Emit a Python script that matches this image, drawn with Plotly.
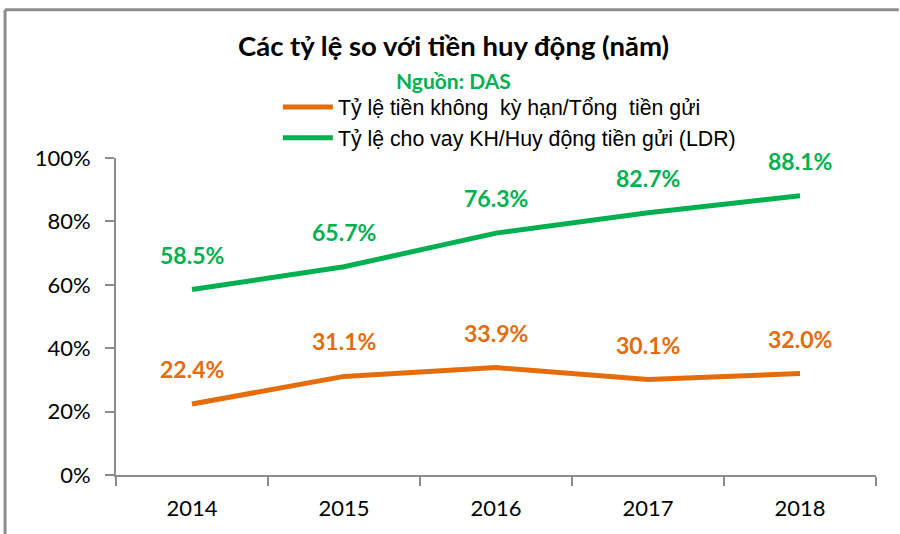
import plotly.graph_objects as go

years = ["2014", "2015", "2016", "2017", "2018"]
casa = [22.4, 31.1, 33.9, 30.1, 32.0]
ldr = [58.5, 65.7, 76.3, 82.7, 88.1]
name_casa = "Tỷ lệ tiền không  kỳ hạn/Tổng  tiền gửi"
name_ldr = "Tỷ lệ cho vay KH/Huy động tiền gửi (LDR)"
title = "Các tỷ lệ so với tiền huy động (năm)"
subtitle = "Nguồn: DAS"
ytick_vals = [0, 20, 40, 60, 80, 100]
ytick_text = ["0%", "20%", "40%", "60%", "80%", "100%"]

ORANGE = "#E46C0A"
GREEN = "#00B050"
GRAY = "#8C8C8C"

fig = go.Figure()
fig.add_trace(go.Scatter(x=years, y=casa, mode="lines", name=name_casa,
                         line=dict(color=ORANGE, width=5)))
fig.add_trace(go.Scatter(x=years, y=ldr, mode="lines", name=name_ldr,
                         line=dict(color=GREEN, width=5)))

annotations = []
for series, color in ((casa, ORANGE), (ldr, GREEN)):
    for i, v in enumerate(series):
        annotations.append(dict(x=i, y=v, xref="x", yref="y", text=f"<b>{v:.1f}%</b>",
                                showarrow=False, yshift=35, xanchor="center", yanchor="middle",
                                font=dict(family="Lato", size=23, color=color)))
annotations.append(dict(x=0.444, y=1.356, xref="paper", yref="paper", text=f"<b>{title}</b>",
                        showarrow=False, xanchor="center", yanchor="middle",
                        font=dict(family="Lato", size=27.5, color="black")))
annotations.append(dict(x=0.444, y=1.246, xref="paper", yref="paper", text=f"<b>{subtitle}</b>",
                        showarrow=False, xanchor="center", yanchor="middle",
                        font=dict(family="Lato", size=21, color=GREEN)))

fig.update_layout(
    width=900, height=534,
    margin=dict(l=116, r=24, t=158, b=59),
    paper_bgcolor="white", plot_bgcolor="white",
    showlegend=True,
    legend=dict(x=0.213, y=1.225, xanchor="left", yanchor="top",
                font=dict(family="Liberation Sans", size=21.3, color="black"),
                bgcolor="rgba(0,0,0,0)", itemwidth=50, tracegroupgap=0),
    annotations=annotations,
    xaxis=dict(type="category", range=[-0.5, 4.5], tickson="boundaries",
               showline=True, linecolor=GRAY, linewidth=2,
               ticks="outside", ticklen=9, tickcolor=GRAY, tickwidth=2,
               ticklabelstandoff=13,
               showgrid=False, zeroline=False,
               tickfont=dict(family="Lato", size=22, color="black")),
    yaxis=dict(range=[0, 100], tickvals=ytick_vals, ticktext=ytick_text,
               showline=True, linecolor=GRAY, linewidth=2,
               ticks="outside", ticklen=9, tickcolor=GRAY, tickwidth=2,
               ticklabelstandoff=10,
               showgrid=False, zeroline=False,
               tickfont=dict(family="Lato", size=22, color="black")),
    shapes=[
        dict(type="line", xref="paper", yref="paper", x0=-0.146, x1=1.03, y0=1.468, y1=1.468,
             line=dict(color=GRAY, width=3)),
        dict(type="line", xref="paper", yref="paper", x0=-0.146, x1=-0.146, y0=1.468, y1=-0.2,
             line=dict(color=GRAY, width=3)),
    ],
)

fig.write_html("out.html", config={"displayModeBar": False},
               post_script="document.body.style.margin='0';")
